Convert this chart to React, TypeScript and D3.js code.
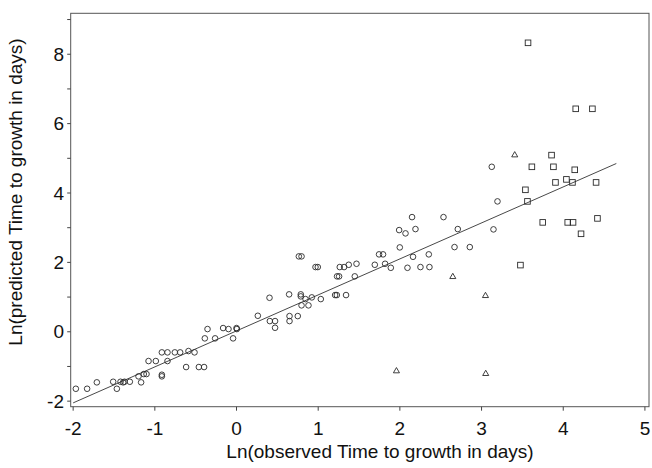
import React from 'react';
import * as d3 from 'd3';

// circles: the main group of isolates
const circleX = [
  -1.967, -1.829, -1.71, -1.51, -1.465, -1.42, -1.388, -1.371, -1.306, -1.2,
  -1.168, -1.135, -1.102, -1.077, -0.988, -0.914, -0.914, -0.914, -0.845, -0.845,
  -0.755, -0.69, -0.617, -0.588, -0.514, -0.461, -0.397, -0.388, -0.355, -0.262,
  -0.164, -0.098, -0.042, 0.0, 0.004, 0.261, 0.408, 0.472, 0.472, 0.649,
  0.649, 0.75, 0.404, 0.644, 0.787, 0.787, 0.845, 0.922, 1.032, 1.207,
  1.228, 1.341, 0.796, 0.881, 0.763, 0.796, 0.967, 0.995, 1.264, 1.317,
  1.374, 1.469, 1.693, 1.819, 1.889, 2.093, 2.252, 1.231, 1.256, 1.448,
  1.745, 1.794, 2.161, 1.999, 1.991, 2.069, 2.149, 2.191, 2.362, 2.354,
  2.534, 2.669, 2.856, 2.709, 3.146, 3.195, 3.125,
];
const circleY = [
  -1.643, -1.643, -1.458, -1.441, -1.643, -1.441, -1.458, -1.441, -1.441, -1.285,
  -1.458, -1.219, -1.219, -0.844, -0.844, -0.594, -1.239, -1.285, -0.594, -0.844,
  -0.594, -0.594, -1.017, -0.556, -0.594, -1.017, -1.017, -0.19, 0.078, -0.19,
  0.107, 0.078, -0.19, 0.107, 0.078, 0.461, 0.308, 0.308, 0.115, 0.452,
  0.308, 0.452, 0.98, 1.078, 1.078, 1.02, 0.942, 0.991, 0.942, 1.058,
  1.058, 1.058, 0.761, 0.761, 2.173, 2.173, 1.865, 1.865, 1.865, 1.865,
  1.931, 1.96, 1.931, 1.96, 1.844, 1.844, 1.865, 1.597, 1.597, 1.597,
  2.231, 2.231, 2.161, 2.432, 2.931, 2.836, 3.305, 2.96, 1.865, 2.231,
  3.305, 2.441, 2.441, 2.96, 2.951, 3.758, 4.755,
];

// squares
const squareX = [
  3.857, 3.616, 3.88, 4.141, 3.905, 4.039, 4.113, 4.402, 3.537, 3.562,
  3.749, 4.055, 4.12, 4.419, 4.218, 3.476, 3.569, 4.153, 4.357,
];
const squareY = [
  5.092, 4.755, 4.755, 4.669, 4.305, 4.392, 4.305, 4.305, 4.092, 3.758,
  3.153, 3.153, 3.153, 3.268, 2.824, 1.922, 8.329, 6.427, 6.427,
];

// triangles
const triangleX = [3.406, 2.648, 3.048, 1.958, 3.051];
const triangleY = [5.092, 1.585, 1.037, -1.133, -1.21];

// fitted line end points
const fitX = [-2.0, 4.65];
const fitY = [-2.05, 4.85];

const xTicks = [-2, -1, 0, 1, 2, 3, 4, 5];
const yTicks = [-2, -1, 0, 1, 2, 3, 4, 5, 6, 7, 8, 9];
const yLabels = [-2, 0, 2, 4, 6, 8];

const W = 652;
const H = 468;
const left = 70.7;
const right = 649;
const top = 13.3;
const bottom = 406.7;

const ink = '#2a2a2a';
const font = '"Liberation Sans", Arial, Helvetica, sans-serif';

export default function App() {
  const x = d3.scaleLinear().domain([-2.03, 5.05]).range([left, right]);
  const y = d3.scaleLinear().domain([-2.16, 9.18]).range([bottom, top]);

  const line = d3.line<number>()
    .x(d => x(fitX[d]))
    .y(d => y(fitY[d]));

  const tri = d3.symbol().type(d3.symbolTriangle).size(16)();

  return (
    <svg width={W} height={H} style={{ position: 'absolute', left: 0, top: 0, background: '#fff' }}>
      <rect x={left} y={top} width={right - left} height={bottom - top}
        fill="none" stroke="#555" strokeWidth={1} />

      {xTicks.map(t => (
        <g key={'x' + t}>
          <line x1={x(t)} x2={x(t)} y1={bottom} y2={bottom + 4} stroke="#444" />
          <text x={x(t)} y={435} textAnchor="middle" fontFamily={font} fontSize={19} fill="#111">
            {t}
          </text>
        </g>
      ))}
      {yTicks.map(t => (
        <line key={'y' + t} x1={left - 3.5} x2={left} y1={y(t)} y2={y(t)} stroke="#444" />
      ))}
      {yLabels.map(t => (
        <text key={'yl' + t} x={64} y={y(t) + 6.5} textAnchor="end" fontFamily={font} fontSize={19} fill="#111">
          {t}
        </text>
      ))}

      <text x={380} y={458} textAnchor="middle" fontFamily={font} fontSize={19} fill="#111">
        Ln(observed Time to growth in days)
      </text>
      <text transform={`translate(22,${192}) rotate(-90)`} textAnchor="middle" fontFamily={font} fontSize={19} fill="#111">
        Ln(predicted Time to growth in days)
      </text>

      <path d={line([0, 1]) ?? ''} fill="none" stroke="#333" strokeWidth={0.9} />

      {circleX.map((v, i) => (
        <circle key={'c' + i} cx={x(v)} cy={y(circleY[i])} r={2.8}
          fill="none" stroke={ink} strokeWidth={0.9} />
      ))}
      {squareX.map((v, i) => (
        <rect key={'s' + i} x={x(v) - 2.8} y={y(squareY[i]) - 2.8} width={5.6} height={5.6}
          fill="none" stroke={ink} strokeWidth={0.9} />
      ))}
      {triangleX.map((v, i) => (
        <path key={'t' + i} d={tri ?? ''} transform={`translate(${x(v)},${y(triangleY[i])})`}
          fill="none" stroke={ink} strokeWidth={0.9} />
      ))}
    </svg>
  );
}
